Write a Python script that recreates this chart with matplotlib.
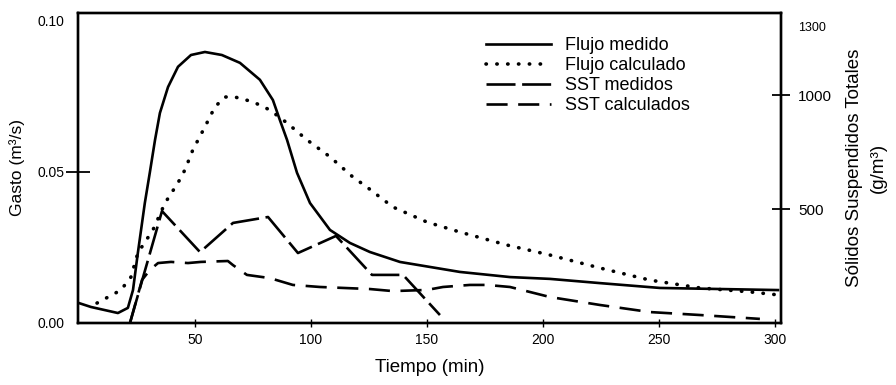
import numpy as np
import matplotlib
matplotlib.use('Agg')
from matplotlib import pyplot as plt

plt.rcParams['font.family'] = ['Liberation Sans', 'DejaVu Sans']

# Flujo medido (m3/s)
t_med = [0, 5.2, 16.8, 21.1, 23.3, 25.4, 28.4, 30.6, 32.8, 34.9, 38.4, 42.7, 48.3,
         54.3, 61.6, 69.4, 78.0, 83.6, 86.6, 89.7, 94.0, 99.6, 108.2, 116.8, 125.4,
         138.4, 164.2, 185.8, 203.0, 224.6, 250.4, 301.3]
q_med = [0.0066, 0.0053, 0.0033, 0.0050, 0.0109, 0.0232, 0.0397, 0.0500, 0.0606,
         0.0695, 0.0781, 0.0848, 0.0887, 0.0897, 0.0887, 0.0861, 0.0805, 0.0738,
         0.0672, 0.0606, 0.0497, 0.0397, 0.0308, 0.0265, 0.0235, 0.0202, 0.0169,
         0.0152, 0.0146, 0.0132, 0.0116, 0.0109]

# Flujo calculado (m3/s)
t_cal = [7.8, 18.1, 22.4, 25.4, 31.9, 37.1, 42.7, 45.7, 49.1, 54.3, 58.6, 62.9, 67.2,
         75.0, 82.3, 89.7, 98.3, 108.2, 118.1, 124.1, 135.3, 150.0, 164.2, 184.5,
         203.0, 224.6, 246.1, 267.7, 289.2, 301.3]
q_cal = [0.0066, 0.0109, 0.0152, 0.0232, 0.0308, 0.0397, 0.0464, 0.0507, 0.0573,
         0.0649, 0.0715, 0.0748, 0.0748, 0.0732, 0.0705, 0.0662, 0.0606, 0.0550,
         0.0483, 0.0450, 0.0384, 0.0334, 0.0301, 0.0258, 0.0225, 0.0182, 0.0142,
         0.0116, 0.0103, 0.0093]

# SST medidos (g/m3)
t_sst_m = [22.0, 35.8, 52.2, 66.4, 81.5, 94.4, 110.8, 126.3, 132.8, 139.7, 155.6]
s_sst_m = [0, 491, 311, 439, 465, 307, 382, 211, 211, 211, 35]

# SST calculados (g/m3)
t_sst_c = [22.0, 27.2, 30.6, 34.1, 39.7, 47.0, 52.6, 64.2, 66.4, 72.4, 82.3, 92.2,
           103.9, 125.4, 135.3, 150.0, 156.9, 168.5, 175.9, 185.8, 203.0, 224.6,
           246.1, 267.7, 293.5]
s_sst_c = [0, 189, 233, 263, 268, 263, 268, 272, 254, 211, 197, 167, 158, 149, 140,
           145, 158, 167, 167, 158, 114, 79, 48, 35, 18]

fig = plt.figure(figsize=(8.96, 3.85), dpi=100)
ax = fig.add_axes([78 / 896, 1 - 323 / 385, (781 - 78) / 896, (323 - 13) / 385])
ax2 = ax.twinx()

l1, = ax.plot(t_med, q_med, color='black', lw=1.9, label='Flujo medido')
l2, = ax.plot(t_cal, q_cal, color='black', lw=2.6, linestyle=(0, (0.1, 2.9)),
              dash_capstyle='round', label='Flujo calculado')
l3, = ax2.plot(t_sst_m, s_sst_m, color='black', lw=1.9, linestyle=(0, (11, 2.5)),
               label='SST medidos')
l4, = ax2.plot(t_sst_c, s_sst_c, color='black', lw=1.9, linestyle=(0, (8, 4)),
               label='SST calculados')

ax.set_xlim(-0.4, 302.6)
ax.set_ylim(0, 0.1026)
ax2.set_ylim(0, 1360)

ax.set_xticks([50, 100, 150, 200, 250, 300])
ax.set_yticks([0, 0.05, 0.10])
ax.set_yticklabels(['0.00', '0.05', '0.10'])
ax2.set_yticks([500, 1000, 1300])

ax.tick_params(axis='x', direction='inout', length=6, width=1, labelsize=10, pad=4)
ax.tick_params(axis='y', direction='inout', length=17, width=1.3, labelsize=10, pad=1)
ax2.tick_params(axis='y', direction='inout', length=13, width=1.3, labelsize=11, pad=6)
for i in (0, 2):
    ax.yaxis.get_major_ticks()[i].tick1line.set_visible(False)
ax2.yaxis.get_major_ticks()[2].tick2line.set_visible(False)
ax2.yaxis.get_major_ticks()[2].label2.set_fontsize(9)

for a in (ax, ax2):
    for s in a.spines.values():
        s.set_linewidth(1.7)

ax.set_xlabel('Tiempo (min)', fontsize=13.5, labelpad=9)
ax.set_ylabel('Gasto (m³/s)', fontsize=12.5, labelpad=9)
ax2.set_ylabel('Sólidos Suspendidos Totales\n(g/m³)', fontsize=13.5, labelpad=10,
               linespacing=1.5)

ax.legend(handles=[l1, l2, l3, l4], loc='upper left', bbox_to_anchor=(0.57, 0.945),
          frameon=False, fontsize=13, handlelength=3.6, labelspacing=0.16,
          handletextpad=0.8, borderaxespad=0)

fig.savefig('out.png', dpi=100)
